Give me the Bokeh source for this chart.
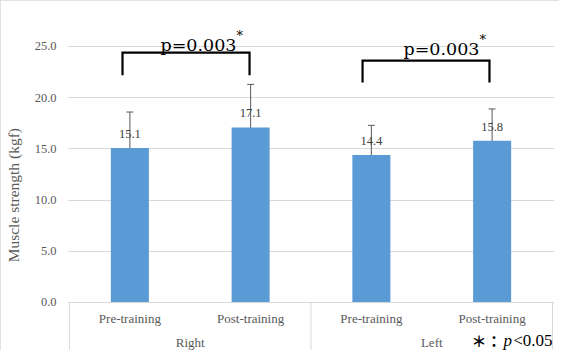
from bokeh.plotting import figure
from bokeh.models import Range1d, FixedTicker, ColumnDataSource, Whisker, TeeHead
from bokeh.core.properties import value
from bokeh.embed import file_html
from bokeh.resources import INLINE

# ---------------- data ----------------
sides = ["Right", "Left"]
conditions = ["Pre-training", "Post-training", "Pre-training", "Post-training"]
means = [15.1, 17.1, 14.4, 15.8]
sds = [3.5, 4.2, 2.9, 3.1]
mean_labels = ["15.1", "17.1", "14.4", "15.8"]
p_texts = ["p=0.003", "p=0.003"]
note_parts = ["\uff0a\uff1a", "p", "<0.05"]
y_ticks = [0, 5, 10, 15, 20, 25]
y_tick_labels = ["0.0", "5.0", "10.0", "15.0", "20.0", "25.0"]
y_title = "Muscle strength (kgf)"

# ---------------- layout ----------------
xs = [i + 0.5 for i in range(len(means))]
side_x = [1.0, 3.0]
serif = "Liberation Serif"
axis_col = "#595959"

src = ColumnDataSource(dict(
    x=xs, top=means,
    upper=[m + s for m, s in zip(means, sds)],
    lower=[m - s for m, s in zip(means, sds)],
    lab=mean_labels, cond=conditions,
))

p = figure(frame_width=487, frame_height=330,
           x_range=Range1d(-0.0166, 4.0166), y_range=Range1d(-4.6875, 27.539),
           output_backend="svg", toolbar_location=None, x_axis_location=None,
           min_border_left=67, min_border_right=5, min_border_top=20, min_border_bottom=0)
p.styles = {"outline": "1px solid #D9D9D9", "outline-offset": "-1px"}
p.outline_line_color = None
p.background_fill_color = "white"
p.border_fill_color = "white"

# y axis
ax = p.yaxis[0]
ax.ticker = FixedTicker(ticks=y_ticks)
ax.major_label_overrides = {t: l for t, l in zip(y_ticks, y_tick_labels)}
ax.axis_line_color = None
ax.major_tick_line_color = None
ax.minor_tick_line_color = None
ax.major_tick_out = 0
ax.major_tick_in = 0
ax.major_label_standoff = 11
ax.major_label_text_font = serif
ax.major_label_text_font_size = "12.5px"
ax.major_label_text_color = axis_col
ax.axis_label = y_title + "\u00a0" * 5
ax.axis_label_text_font = serif
ax.axis_label_text_font_style = "normal"
ax.axis_label_text_font_size = "15.5px"
ax.axis_label_text_color = axis_col
ax.axis_label_standoff = 10

p.xgrid.visible = False
p.ygrid.grid_line_color = "#D9D9D9"
p.ygrid.grid_line_width = 1

# bars
p.vbar(x="x", top="top", bottom=0, width=0.315, source=src,
       fill_color="#5B9BD5", line_color=None)

# data labels
p.text(x="x", y="top", text="lab", source=src, text_align="center",
       text_baseline="middle", y_offset=-14, text_font=value(serif),
       text_font_size="12.5px", text_color="#404040")

# error bars
err = Whisker(source=src, base="x", upper="upper", lower="lower",
              line_color=axis_col, line_width=1,
              upper_head=TeeHead(size=7, line_color=axis_col, line_width=1),
              lower_head=TeeHead(size=7, line_color=axis_col, line_width=1))
p.add_layout(err)

# category axis box
y_axis_bottom = -4.59
p.segment(x0=[0], y0=[0], x1=[4], y1=[0], line_color="#D9D9D9", line_width=1)
p.segment(x0=[0, 2, 4], y0=[0, 0, 0], x1=[0, 2, 4], y1=[y_axis_bottom] * 3,
          line_color="#D9D9D9", line_width=1)
p.text(x="x", y=-1.5625, text="cond", source=src, text_align="center",
       text_baseline="middle", text_font=value(serif), text_font_size="13px",
       text_color=axis_col)
p.text(x=side_x, y=[-3.906, -3.906], text=sides, text_align="center",
       text_baseline="middle", text_font=value(serif), text_font_size="13px",
       text_color=axis_col)

# significance brackets
brackets = [(0.439, 1.491, 24.41, 22.2), (2.427, 3.478, 23.63, 21.48)]
for (l, r, top, bot) in brackets:
    p.line(x=[l, l, r, r], y=[bot, top, top, bot], line_color="black",
           line_width=2.2, line_join="miter")

p_text_x = [0.7536, 2.766]
p_text_y = [25.10, 24.71]
p.text(x=p_text_x, y=p_text_y, text=p_texts, text_align="left",
       text_baseline="alphabetic", text_font=value("DejaVu Serif"),
       text_font_size="17.5px", text_color="black")
p.text(x=p_text_x, y=p_text_y, text=["*", "*"], text_align="left",
       text_baseline="alphabetic", x_offset=76, y_offset=-10,
       text_font=value("DejaVu Serif"), text_font_size="13px", text_color="black")

# note
note_y = -3.71
p.text(x=[3.329], y=[note_y], text=[note_parts[0]], text_align="left",
       text_baseline="middle", text_font=value("Noto Sans CJK JP"),
       text_font_style="bold", text_font_size="15px", text_color="black")
p.text(x=[3.595], y=[note_y], text=[note_parts[1]], text_align="left",
       text_baseline="middle", text_font=value(serif), text_font_style="italic",
       text_font_size="17px", text_color="black")
p.text(x=[3.675], y=[note_y], text=[note_parts[2]], text_align="left",
       text_baseline="middle", text_font=value(serif),
       text_font_size="17px", text_color="black")

open("out.html", "w").write(file_html(p, INLINE))
